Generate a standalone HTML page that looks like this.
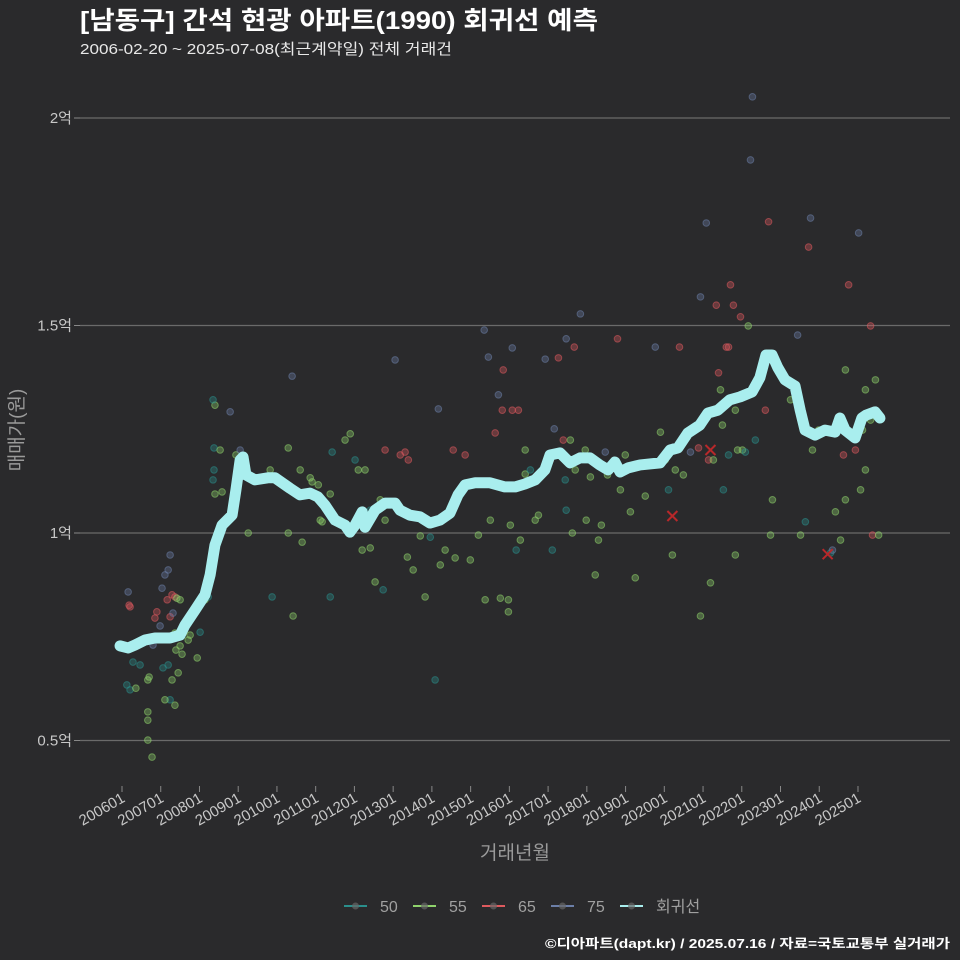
<!DOCTYPE html>
<html><head><meta charset="utf-8"><style>
body{margin:0;background:#2a2a2c;}
svg{display:block;font-family:"Liberation Sans","Noto Sans CJK KR",sans-serif;}
</style></head><body>
<svg id="chart" width="960" height="960" viewBox="0 0 960 960">
<rect width="960" height="960" fill="#2a2a2c"/>
<text x="80" y="29" fill="#ffffff" font-size="25" font-weight="bold" textLength="518" lengthAdjust="spacingAndGlyphs">[남동구] 간석 현광 아파트(1990) 회귀선 예측</text>
<text x="80" y="54" fill="#e8e8e8" font-size="15" textLength="372" lengthAdjust="spacingAndGlyphs">2006-02-20 ~ 2025-07-08(최근계약일) 전체 거래건</text>
<g id="grid"></g>
<g id="yaxis"></g>
<g id="xaxis"></g>
<g id="points"></g>
<g id="crosses"></g>
<g id="reg"></g>
<text x="515" y="859" fill="#9a9a9a" font-size="19" text-anchor="middle">거래년월</text>
<text transform="translate(23,430) rotate(-90)" fill="#9a9a9a" font-size="19" text-anchor="middle">매매가(원)</text>
<g id="legend"></g>
<text x="950" y="948" fill="#ffffff" font-size="13" font-weight="bold" text-anchor="end" textLength="405" lengthAdjust="spacingAndGlyphs">©디아파트(dapt.kr) / 2025.07.16 / 자료=국토교통부 실거래가</text>
</svg>
<script>
// months since 2006-01, values in 만원
const yTicks=[5000,10000,15000,20000];
const yTickLabels=["0.5억","1억","1.5억","2억"];
const xTickMonths=[0,12,24,36,48,60,72,84,96,108,120,132,144,156,168,180,192,204,216,228];
const xTickLabels=["200601","200701","200801","200901","201001","201101","201201","201301","201401","201501","201601","201701","201801","201901","202001","202101","202201","202301","202401","202501"];
const ptMonths=[1.5,2.5,3.4,1.9,2.2,2.5,8,8,8,9.3,8,8.4,4.3,5.6,9.6,10.2,10.8,11.8,12.4,13.3,14.3,14.9,14,14.9,15.5,16.4,15.8,17,18,16.4,16.7,15.5,14.3,14.9,16.4,13.3,12.7,17.4,18,18.6,20.5,21.1,23.3,24.2,25.7,26.7,27.3,27.9,28.2,28.5,28.5,28.8,28.2,31,28.8,30.4,33.5,35.3,36.6,39.1,45.9,46.5,51.5,51.5,52.7,53,55.2,55.8,58.3,58.9,60.8,61.4,62,64.5,65.1,64.5,69.1,70.7,72.2,73.2,74.4,75.3,76.9,78.4,80,81.5,76.9,80.9,84.6,81.5,86.2,87.7,88.7,88.4,90.2,92.4,93.9,95.5,98,97,100.1,98.6,102.6,103.2,106.3,107.9,110.4,112.2,113.5,114.1,112.5,115.6,116.6,117.2,117.8,118.1,119.7,119.7,120.3,120.9,120.9,122.1,122.8,123.4,124.9,124.9,126.5,128,129,131.1,132.7,133.9,133.3,135.2,136.7,137.3,137.6,138.9,139.5,140.1,137.6,140.4,142,143.5,143.8,145.1,146.6,147.6,148.5,149.7,150.4,153.5,154.4,155.9,157.5,159,162.1,165.2,166.8,168.3,169.3,170.5,170.8,171.4,172.7,173.9,176.1,178.6,179.2,179.2,181,181.7,182.3,183.2,184.1,184.8,185.4,186,186.3,187.2,187.9,187.9,188.5,189.4,190,190,190.7,191.6,192.2,193.1,194,194.7,195.3,196.2,199.3,200.3,200.9,201.5,207.1,209.3,210.2,211.7,212.7,213.3,213.9,215.8,219.5,220.1,221,222.6,223.5,224.1,224.1,225.1,227.2,228.2,228.8,229.4,230.3,230.3,230.6,231.9,232.5,233.4,234.4,231.9];
const ptValues=[6340,6220,6890,8580,8260,8220,5690,5490,5010,4600,6460,6530,6260,6820,7300,7950,8100,7760,8670,8990,9110,9470,8390,7980,8510,8460,8070,8430,8390,7590,7180,6460,6820,5980,5850,5980,6750,6630,7280,7080,7420,7540,6990,7610,8390,8460,8870,9470,11280,11520,12050,13080,13210,10990,10940,12000,12920,11880,12000,10000,11520,8460,12050,10000,13780,8000,11520,9780,11330,11230,11160,10310,10270,10940,11950,8460,12240,12390,11760,11520,9590,11520,9640,8820,10800,10310,10550,8630,14170,12000,11880,11950,11760,9420,9110,9930,8460,9900,12990,6460,9590,9230,12000,9400,11880,9350,9950,14890,14240,10310,8390,12410,13330,8430,12960,13930,8390,8100,10190,14460,12960,9590,12960,9830,12000,11420,11520,10310,10430,14190,11760,12510,9590,14220,12240,11280,10550,12240,10000,14480,14680,11520,15280,12000,10310,11350,8990,9830,10190,11950,11400,14680,11040,11880,10510,8920,10890,14480,12430,11760,11040,9470,12070,11520,14480,11400,11950,12050,15690,8000,17470,11760,8800,11760,15490,13860,13450,12600,11040,14480,14480,11880,15980,15490,12960,9470,12000,15210,12000,11950,14990,18990,20510,12240,12960,17500,9950,10800,13210,14770,9950,10270,16890,17590,12000,12480,9520,9590,10510,9830,11880,10800,13930,15980,12000,17230,11040,12480,13450,11520,12870,14990,9950,13690,9950,12720];
const ptTypes=[50,50,50,75,65,65,55,55,55,55,55,55,55,50,75,65,65,75,75,75,75,75,65,65,65,65,75,55,55,55,55,55,50,50,55,55,50,55,55,55,55,55,55,50,55,50,55,65,50,50,50,55,50,55,55,55,75,55,75,55,55,50,55,55,75,55,55,55,55,55,55,55,55,55,50,50,55,55,50,55,55,55,55,55,55,55,50,50,75,65,65,65,65,55,55,55,55,50,75,50,55,55,65,55,65,55,55,75,75,55,55,65,75,55,65,65,55,55,55,75,65,50,65,55,55,55,50,55,55,75,65,75,50,65,65,50,50,55,55,65,75,55,75,55,55,55,55,55,55,75,55,65,55,55,55,55,55,75,55,55,50,55,75,55,65,55,75,65,75,55,75,65,55,55,65,65,55,55,50,65,65,50,65,65,55,55,55,65,55,50,55,75,75,50,65,65,55,55,55,75,55,50,65,75,55,55,50,75,55,55,65,55,55,65,65,75,55,55,55,55,55,65,65,55,55,55];
const crossMonths=[170.5,182.3,218.6];
const crossValues=[10410,12000,9490];
const regMonths=[-0.6,1.9,4,7.1,10.2,14.9,18,19.5,22.6,25.7,27.3,28.8,31,34.1,35.3,36.6,37.5,38.4,41.2,45.2,47.4,52,55.1,58.2,60.7,62.9,66,69.1,70.6,72.2,74.4,75.3,78.4,81.5,84.6,86.1,89.2,92.3,95.4,98.5,101.6,104.1,106.3,109.4,114,118.6,121.8,124.8,128,131,132.6,135.7,138.8,141.9,145,148,150.6,152.7,154.3,156.8,160.5,166.7,169.8,172.2,175.3,179,181.5,184.6,188.3,191.5,195.2,197.6,199.5,201.4,203.2,205.4,208.5,210.1,211.6,214.7,217.8,220.9,222.4,224,227.1,229.2,230.5,233.3,234.8];
const regValues=[7280,7230,7300,7420,7470,7470,7540,7780,8140,8510,8990,9710,10190,10430,11040,11760,11830,11400,11280,11330,11330,11080,10920,10960,10870,10670,10310,10190,10020,10190,10510,10140,10550,10720,10720,10550,10430,10390,10240,10310,10480,10920,11160,11210,11210,11110,11110,11180,11280,11520,11880,11930,11690,11810,11810,11640,11520,11710,11470,11570,11640,11690,12000,12050,12410,12600,12890,12960,13210,13280,13400,13740,14290,14290,13980,13690,13540,12960,12480,12360,12480,12430,12770,12480,12290,12770,12840,12920,12770];

const NS='http://www.w3.org/2000/svg';
const colors={50:'#2a8f8c',55:'#8fd36c',65:'#de5a5e',75:'#6c7fa8'};
const X=m=>122+m*3.228;
const Y=v=>533-(v-10000)*0.0415;
function mk(tag,attrs,parent){const e=document.createElementNS(NS,tag);for(const k in attrs)e.setAttribute(k,attrs[k]);parent.appendChild(e);return e;}
const grid=document.getElementById('grid'),ya=document.getElementById('yaxis'),xa=document.getElementById('xaxis');
yTicks.forEach((v,i)=>{
  const l=mk('line',{x1:80,x2:950,y1:Y(v),y2:Y(v),stroke:'#6a6a6a','stroke-width':1.2},grid);
  
  
  const t=mk('line',{x1:74,x2:80,y1:Y(v),y2:Y(v),stroke:'#888'},ya);
  
  
  const tx=mk('text',{x:72,y:Y(v)+5,fill:'#c8c8c8','font-size':15,'text-anchor':'end'},ya);
  tx.textContent=yTickLabels[i];
  
  
});
xTickMonths.forEach((m,i)=>{
  const x=X(m);
  const t=mk('line',{x1:x,x2:x,y1:786,y2:792,stroke:'#888'},xa);
  
  
  const tx=mk('text',{transform:`translate(${x+4},${801}) rotate(-30)`,fill:'#c8c8c8','font-size':15,'text-anchor':'end'},xa);
  tx.textContent=xTickLabels[i];
  
  
});
const pg=document.getElementById('points');
ptMonths.forEach((m,i)=>{
  const c=colors[ptTypes[i]];
  const p=mk('circle',{cx:X(m),cy:Y(ptValues[i]),r:3.3,fill:c,'fill-opacity':0.35,stroke:c,'stroke-opacity':0.55,'stroke-width':1},pg);
  
  
});
const cg=document.getElementById('crosses');
crossMonths.forEach((m,i)=>{
  const x=X(m),y=Y(crossValues[i]);
  const c=mk('path',{d:`M${x-5},${y-5}L${x+5},${y+5}M${x+5},${y-5}L${x-5},${y+5}`,stroke:'#b8282a','stroke-width':2},cg);
  
  
});
const rg=document.getElementById('reg');
const path=mk('polyline',{points:regMonths.map((m,i)=>X(m)+','+Y(regValues[i])).join(' '),fill:'none',stroke:'#a9eeee','stroke-width':11,'stroke-linejoin':'round','stroke-linecap':'round'},rg);


const lg=document.getElementById('legend');
const legendLabels=['50','55','65','75','회귀선'];
const legendColors=[colors[50],colors[55],colors[65],colors[75],'#a9eeee'];
const legendX=[344,413,482,551,620];
legendLabels.forEach((lab,i)=>{
  const g=mk('g',{},lg);
  
  
  const x=legendX[i];
  mk('line',{x1:x,x2:x+23,y1:906,y2:906,stroke:legendColors[i],'stroke-width':2},g);
  mk('circle',{cx:x+11.5,cy:906,r:3.5,fill:'#666','fill-opacity':0.7},g);
  const t=mk('text',{x:x+36,y:912,fill:'#a0a0a0','font-size':16},g);
  t.textContent=lab;
});
</script>
</body></html>
